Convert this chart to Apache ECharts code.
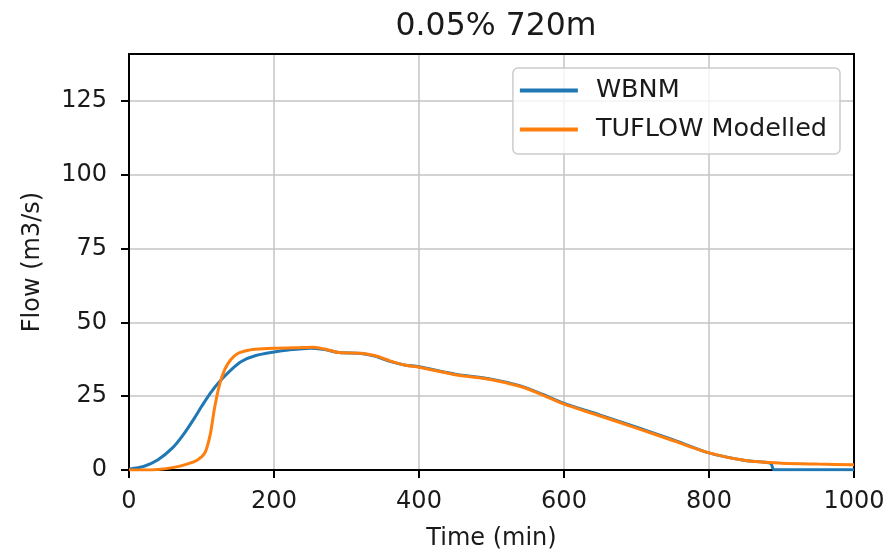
<!DOCTYPE html>
<html>
<head>
<meta charset="utf-8">
<script src="https://cdn.jsdelivr.net/npm/echarts@6/dist/echarts.min.js"></script>
<style>html,body{margin:0;padding:0;background:#fff}#c{width:894px;height:556px}</style>
</head>
<body>
<div id="c"></div>
<script>
const titleText = '0.05% 720m';
const xName = 'Time (min)';
const yName = 'Flow (m3/s)';
const seriesNames = ['WBNM', 'TUFLOW Modelled'];

const wbnmTime = [0, 20, 40, 60, 75, 90, 100, 112, 125, 140, 155, 175, 200, 220, 250, 270, 290, 320, 340, 360, 380, 400, 450, 500, 540, 570, 600, 650, 700, 750, 800, 850, 885, 889, 900, 1000];
const wbnmFlow = [0.3, 1.2, 3.5, 7.5, 12, 17.5, 21.5, 26, 30, 33.8, 36.8, 38.8, 40, 40.7, 41.3, 40.8, 39.8, 39.5, 38.5, 36.8, 35.6, 35, 32.5, 30.8, 28.5, 25.7, 22.6, 18.6, 14.5, 10.3, 5.8, 3.2, 2.3, 0.2, 0.1, 0.1];

const tuflowTime = [0, 20, 40, 60, 80, 95, 105, 112, 118, 125, 132, 140, 150, 165, 180, 200, 230, 255, 270, 290, 320, 340, 360, 380, 400, 450, 500, 540, 570, 600, 650, 700, 750, 800, 850, 900, 950, 1000];
const tuflowFlow = [0, 0, 0.2, 0.8, 2, 3.5, 6, 12, 21, 29, 34, 37.3, 39.5, 40.6, 41, 41.3, 41.4, 41.6, 41, 39.8, 39.6, 38.7, 37, 35.6, 34.8, 32.3, 30.6, 28.3, 25.5, 22.3, 18.3, 14.2, 10, 5.8, 3.2, 2.3, 2, 1.8];

const xTicks = [0, 200, 400, 600, 800, 1000];
const yTicks = [0, 25, 50, 75, 100, 125];

const font = 'DejaVu Sans';
const ink = '#1a1a1a';
const chart = echarts.init(document.getElementById('c'), null, {renderer: 'canvas'});
const pair = (xs, ys) => xs.map((x, i) => [x, ys[i]]);
const spine = {show: true, onZero: false, lineStyle: {color: '#000', width: 2}};

chart.setOption({
  animation: false,
  backgroundColor: '#fff',
  title: {
    text: titleText, left: 491, textAlign: 'center', top: 6,
    textStyle: {fontFamily: font, fontSize: 31.5, fontWeight: 'normal', color: ink}
  },
  grid: {left: 129, right: 40, top: 54, bottom: 84},
  legend: {
    orient: 'vertical', right: 54, top: 68, align: 'left',
    padding: [8, 13, 10, 7],
    itemWidth: 58, itemHeight: 4, itemGap: 10,
    icon: 'rect',
    backgroundColor: 'rgba(255,255,255,0.8)', borderColor: '#cccccc', borderWidth: 1.5, borderRadius: 5,
    textStyle: {fontFamily: font, fontSize: 25.5, color: ink, lineHeight: 29, padding: [0, 0, 0, 13]},
    data: seriesNames
  },
  xAxis: [{
    type: 'value', min: 0, max: 1000, interval: 200,
    name: xName, nameLocation: 'middle', nameGap: 57,
    nameTextStyle: {fontFamily: font, fontSize: 24, color: ink},
    axisLine: spine,
    axisTick: {show: true, inside: false, length: 8, lineStyle: {color: '#000', width: 2}},
    axisLabel: {fontFamily: font, fontSize: 24, color: ink, margin: 20,
      formatter: v => xTicks.includes(v) ? String(v) : ''},
    splitLine: {show: true, lineStyle: {color: '#c4c4c4', width: 1.5}}
  }, {
    type: 'value', position: 'top', min: 0, max: 1000, interval: 200,
    axisLine: spine, axisTick: {show: false}, axisLabel: {show: false}, splitLine: {show: false}
  }],
  yAxis: [{
    type: 'value', min: 0, max: 141, interval: 25,
    name: yName, nameLocation: 'middle', nameGap: 84,
    nameTextStyle: {fontFamily: font, fontSize: 24, color: ink},
    axisLine: spine,
    axisTick: {show: true, inside: false, length: 8, lineStyle: {color: '#000', width: 2}},
    axisLabel: {fontFamily: font, fontSize: 24, color: ink, margin: 22, showMaxLabel: false,
      formatter: v => yTicks.includes(v) ? String(v) : ''},
    splitLine: {show: true, lineStyle: {color: '#c4c4c4', width: 1.5}}
  }, {
    type: 'value', position: 'right', min: 0, max: 141, interval: 25,
    axisLine: spine, axisTick: {show: false}, axisLabel: {show: false}, splitLine: {show: false}
  }],
  series: [
    {name: seriesNames[0], type: 'line', data: pair(wbnmTime, wbnmFlow), showSymbol: false,
     smooth: 0.25, lineStyle: {color: '#1f77b4', width: 3}, itemStyle: {color: '#1f77b4'}},
    {name: seriesNames[1], type: 'line', data: pair(tuflowTime, tuflowFlow), showSymbol: false,
     smooth: 0.25, lineStyle: {color: '#ff7f0e', width: 3}, itemStyle: {color: '#ff7f0e'}}
  ]
});
</script>
</body>
</html>
